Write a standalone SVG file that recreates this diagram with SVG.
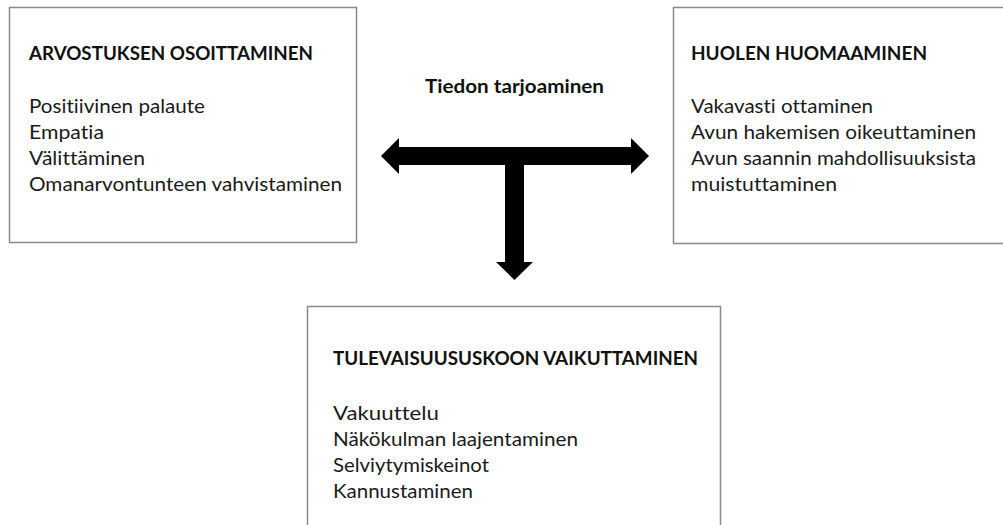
<svg xmlns="http://www.w3.org/2000/svg" width="1003" height="525" viewBox="0 0 1003 525">
  <style>
    .box { fill: #ffffff; stroke: #8a8a8a; stroke-width: 1.5; }
    .title { font-family: Lato, "Liberation Sans", sans-serif; font-size: 18.5px; font-weight: bold; fill: #111111; font-variant-ligatures: none; }
    .item { font-family: Lato, "Liberation Sans", sans-serif; font-size: 19px; fill: #1a1a1a; font-variant-ligatures: none; }
    .arrow { fill: #000000; }
  </style>
  <rect x="0" y="0" width="1003" height="525" fill="#ffffff"/>

  <g id="node-arvostus">
    <rect class="box" x="9.5" y="7.5" width="347" height="235"/>
    <text class="title" x="29" y="60" textLength="284" lengthAdjust="spacingAndGlyphs">ARVOSTUKSEN OSOITTAMINEN</text>
    <text class="item" x="29" y="113" textLength="176" lengthAdjust="spacingAndGlyphs">Positiivinen palaute</text>
    <text class="item" x="29" y="139" textLength="75" lengthAdjust="spacingAndGlyphs">Empatia</text>
    <text class="item" x="29" y="165" textLength="116" lengthAdjust="spacingAndGlyphs">Välittäminen</text>
    <text class="item" x="29" y="191" textLength="313" lengthAdjust="spacingAndGlyphs">Omanarvontunteen vahvistaminen</text>
  </g>

  <g id="node-huoli">
    <rect class="box" x="673.5" y="7.5" width="340" height="236"/>
    <text class="title" x="691" y="60" textLength="236" lengthAdjust="spacingAndGlyphs">HUOLEN HUOMAAMINEN</text>
    <text class="item" x="691" y="113" textLength="182" lengthAdjust="spacingAndGlyphs">Vakavasti ottaminen</text>
    <text class="item" x="691" y="139" textLength="285" lengthAdjust="spacingAndGlyphs">Avun hakemisen oikeuttaminen</text>
    <text class="item" x="691" y="165" textLength="285" lengthAdjust="spacingAndGlyphs">Avun saannin mahdollisuuksista</text>
    <text class="item" x="691" y="191" textLength="146" lengthAdjust="spacingAndGlyphs">muistuttaminen</text>
  </g>

  <g id="node-tulevaisuus">
    <rect class="box" x="307.5" y="306.5" width="413" height="260"/>
    <text class="title" x="333" y="365" textLength="365" lengthAdjust="spacingAndGlyphs">TULEVAISUUSUSKOON VAIKUTTAMINEN</text>
    <text class="item" x="333" y="420" textLength="106" lengthAdjust="spacingAndGlyphs">Vakuuttelu</text>
    <text class="item" x="333" y="446" textLength="245" lengthAdjust="spacingAndGlyphs">Näkökulman laajentaminen</text>
    <text class="item" x="333" y="472" textLength="156" lengthAdjust="spacingAndGlyphs">Selviytymiskeinot</text>
    <text class="item" x="333" y="498" textLength="140" lengthAdjust="spacingAndGlyphs">Kannustaminen</text>
  </g>

  <g id="connectors">
    <polygon class="arrow" points="381,156 399,138 399,147 631,147 631,138 649,156 631,174 631,165 524,165 524,262 533,262 514.5,280 496,262 505,262 505,165 399,165 399,174"/>
    <text class="title" x="425" y="93" textLength="179" lengthAdjust="spacingAndGlyphs">Tiedon tarjoaminen</text>
  </g>
</svg>
